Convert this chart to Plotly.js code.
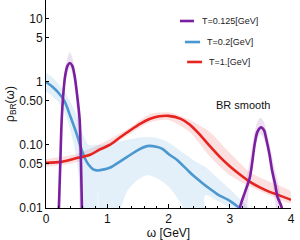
<!DOCTYPE html>
<html>
<head>
<meta charset="utf-8">
<script src="https://cdn.plot.ly/plotly-3.0.1.min.js"></script>
<style>html,body{margin:0;padding:0;background:#fff;}#chart{width:300px;height:240px;}</style>
</head>
<body>
<div id="chart"></div>
<script>
// ---- Data ----
// T = 0.125 GeV (two separate spikes; null separates them)
const omegaPurple = [0.19,0.21,0.23,0.256,0.28,0.31,0.35,0.39,0.43,0.47,0.51,0.55,0.57,0.587,0.6,
                     null,
                     3.14,3.165,3.25,3.33,3.41,3.45,3.51,3.56,3.6,3.65,3.69,3.74,3.78,3.85,3.88];
const rhoPurple   = [0.003,0.01,0.04,0.25,0.6,1.2,1.8,2.0,1.8,1.2,0.6,0.25,0.06,0.01,0.003,
                     null,
                     0.003,0.01,0.018,0.031,0.107,0.16,0.19,0.17,0.12,0.07,0.04,0.024,0.015,0.01,0.003];
// error band, first spike
const omegaPurpleBand1 = [0.18,0.2,0.24,0.28,0.32,0.36,0.39,0.42,0.46,0.5,0.54,0.58,0.6];
const upperPurpleBand1 = [0.002,0.01,0.15,0.9,1.8,2.6,3.0,2.6,1.8,0.9,0.3,0.02,0.002];
const lowerPurpleBand1 = [0.002,0.002,0.02,0.4,1.0,1.5,1.7,1.5,1.0,0.4,0.06,0.002,0.002];
// error band, second spike
const omegaPurpleBand2 = [3.1,3.2,3.3,3.4,3.45,3.5,3.55,3.6,3.7,3.8,3.9];
const upperPurpleBand2 = [0.004,0.012,0.04,0.15,0.23,0.27,0.24,0.17,0.06,0.022,0.005];
const lowerPurpleBand2 = [0.002,0.002,0.015,0.08,0.12,0.15,0.13,0.09,0.025,0.005,0.002];

// T = 0.2 GeV
const omegaBlue = [0,0.1,0.2,0.3,0.4,0.5,0.58,0.64,0.7,0.77,0.83,0.95,1.05,1.2,1.32,1.5,1.65,1.8,1.9,2.0,2.14,2.3,2.4,2.55,2.68,2.8,3.0,3.16,3.25];
const rhoBlue   = [1.0,0.85,0.68,0.5,0.28,0.15,0.085,0.06,0.048,0.041,0.0395,0.041,0.044,0.054,0.064,0.083,0.096,0.094,0.087,0.072,0.058,0.041,0.033,0.025,0.02,0.0165,0.013,0.01,0.0085];
const omegaBlueBand = [0,0.1,0.2,0.3,0.4,0.5,0.55,0.6,0.7,0.8,0.85,0.9,1.0,1.1,1.32,1.5,1.65,1.8,2.0,2.24,2.4,2.6,2.6,2.8,3.0,3.16,3.3];
const upperBlueBand = [1.4,1.2,0.95,0.72,0.48,0.3,0.22,0.15,0.1,0.1,0.1,0.1,0.105,0.11,0.12,0.13,0.134,0.13,0.11,0.075,0.058,0.045,0.045,0.03,0.02,0.014,0.01];
const lowerBlueBand = [0.7,0.6,0.48,0.33,0.17,0.06,0.02,0.002,0.002,0.002,0.018,0.002,0.002,0.004,0.018,0.028,0.033,0.03,0.022,0.01,0.002,0.002,0.016,0.013,0.01,0.0075,0.006];

// T = 1 GeV
const omegaRed = [0,0.25,0.5,0.72,0.88,1.04,1.2,1.37,1.55,1.7,1.85,2.0,2.2,2.35,2.5,2.68,2.85,3.0,3.15,3.33,3.5,3.65,3.8,4.0];
const rhoRed   = [0.052,0.054,0.062,0.07,0.085,0.1,0.13,0.17,0.22,0.26,0.285,0.29,0.26,0.21,0.15,0.095,0.063,0.046,0.035,0.026,0.021,0.018,0.016,0.0135];
const omegaRedBand = [0,0.5,1.0,1.37,1.7,2.0,2.35,2.68,3.0,3.33,3.65,4.0];
const upperRedBand = [0.06,0.072,0.118,0.19,0.31,0.33,0.25,0.16,0.075,0.037,0.026,0.018];
const lowerRedBand = [0.045,0.053,0.09,0.15,0.23,0.25,0.16,0.065,0.033,0.022,0.016,0.012];

// axis ticks and labels
const xTicks = [0,1,2,3,4];
const yTicks = [0.01,0.05,0.1,0.5,1,5,10];
const yTickText = ['0.01','0.05','0.10','0.50','1','5','10'];
const seriesNames = ['T=0.125[GeV]','T=0.2[GeV]','T=1.[GeV]'];

// ---- Styling ----
const cPurple = '#7a1fa0', cBlue = '#4b97cf', cRed = '#e6231f';
const fPurple = 'rgba(140,60,170,0.16)', fBlue = 'rgba(90,160,215,0.16)', fRed = 'rgba(235,60,60,0.16)';

function band(xs, up, lo, fill) {
  return {x: xs.concat(xs.slice().reverse()), y: up.concat(lo.slice().reverse()),
    type:'scatter', mode:'lines', fill:'toself', fillcolor: fill,
    line:{width:0, shape:'spline', smoothing:0.7}, hoverinfo:'skip', showlegend:false};
}
function curve(xs, ys, color, name) {
  return {x: xs, y: ys, type:'scatter', mode:'lines', name: name, connectgaps:false,
    line:{color: color, width:2.6, shape:'spline', smoothing:0.8}, showlegend:false};
}

const traces = [
  band(omegaRedBand, upperRedBand, lowerRedBand, fRed),
  band(omegaBlueBand, upperBlueBand, lowerBlueBand, fBlue),
  band(omegaPurpleBand1, upperPurpleBand1, lowerPurpleBand1, fPurple),
  band(omegaPurpleBand2, upperPurpleBand2, lowerPurpleBand2, fPurple),
  curve(omegaBlue, rhoBlue, cBlue, seriesNames[1]),
  curve(omegaRed, rhoRed, cRed, seriesNames[2]),
  curve(omegaPurple, rhoPurple, cPurple, seriesNames[0])
];

const font = {family:'Liberation Sans, Arial, sans-serif', size:12, color:'#111'};
// legend drawn as layout shapes + annotations (paper coords)
const legendRows = [
  {c:cPurple, x0:0.547, x1:0.604, tx:0.629, y:0.899, t:seriesNames[0]},
  {c:cBlue,   x0:0.567, x1:0.629, tx:0.649, y:0.798, t:seriesNames[1]},
  {c:cRed,    x0:0.576, x1:0.637, tx:0.657, y:0.702, t:seriesNames[2]}
];
const shapes = legendRows.map(r => ({type:'line', xref:'paper', yref:'paper', x0:r.x0, x1:r.x1, y0:r.y, y1:r.y, line:{color:r.c, width:2.6}}));
const annotations = legendRows.map(r => ({xref:'paper', yref:'paper', x:r.tx, y:r.y, xanchor:'left', yanchor:'middle', text:r.t, showarrow:false, font:{family:font.family, size:9, color:'#222'}}));
annotations.push({xref:'paper', yref:'paper', x:0.804, y:0.495, xanchor:'center', yanchor:'middle', text:'BR smooth', showarrow:false, font:{family:font.family, size:11, color:'#111'}});

const layout = {
  width:300, height:240,
  margin:{l:46, r:9, t:0, b:32, pad:0},
  paper_bgcolor:'#fff', plot_bgcolor:'#fff',
  font: font,
  showlegend:false,
  xaxis:{range:[0,4], tickmode:'array', tickvals:xTicks, ticks:'inside', ticklen:4, tickcolor:'#000',
    showline:true, linecolor:'#000', linewidth:1, showgrid:false, zeroline:false,
    minor:{dtick:0.2, tick0:0, ticks:'inside', ticklen:2, tickcolor:'#000'},
    tickfont:{size:12, color:'#111'},
    title:{text:'ω [GeV]', font:{size:12, color:'#111'}, standoff:2}},
  yaxis:{type:'log', range:[-2, 1.301], tickmode:'array', tickvals:yTicks, ticktext:yTickText,
    ticks:'inside', ticklen:3, tickcolor:'#000',
    showline:true, linecolor:'#000', linewidth:1, showgrid:false, zeroline:false,
    tickfont:{size:12, color:'#111'},
    title:{text:'ρ<sub>BR</sub>(ω)', font:{size:12, color:'#111'}, standoff:2}},
  shapes: shapes,
  annotations: annotations
};

Plotly.newPlot('chart', traces, layout, {staticPlot:true, displayModeBar:false});
</script>
</body>
</html>
